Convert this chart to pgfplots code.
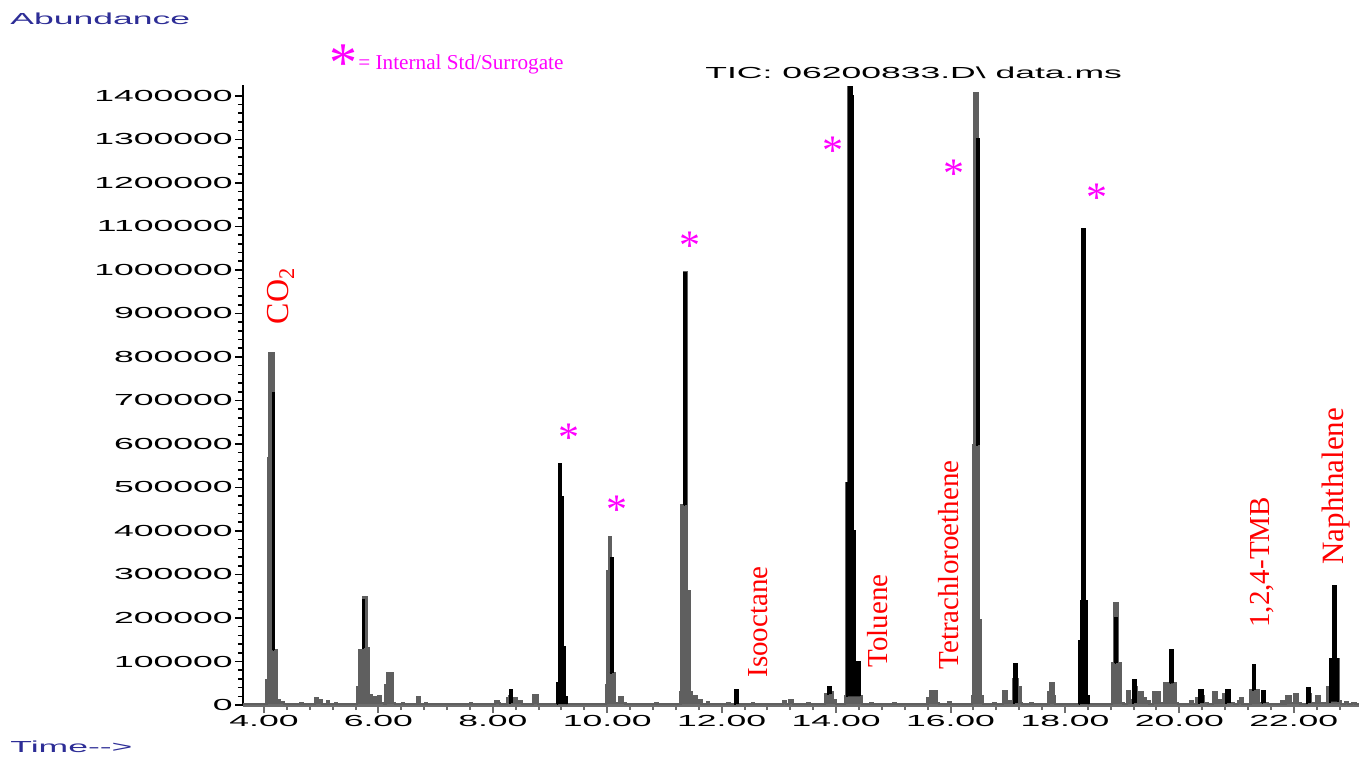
\documentclass[border=0pt]{standalone}
\usepackage{fontspec}
\setmainfont{Liberation Serif}
\newfontfamily\wide[FakeStretch=2.22]{Liberation Sans}
\usepackage{pgfplots}
\pgfplotsset{compat=1.18}
\definecolor{trgray}{RGB}{95,95,95}
\definecolor{axgray}{RGB}{110,110,110}
\definecolor{abblue}{RGB}{45,45,150}
\definecolor{mag}{RGB}{255,0,255}
\definecolor{lblred}{RGB}{255,0,0}
\newcommand\tk{\wide\fontsize{8}{8}\selectfont}
\begin{document}
\begin{tikzpicture}
\useasboundingbox (-121.5pt,-26pt) rectangle (558pt,352.5pt);
\begin{axis}[
  at={(0pt,0pt)}, anchor=south west,
  width=558pt, height=310pt, scale only axis,
  xmin=3.633, xmax=23.14, ymin=0, ymax=1425000,
  axis x line=bottom, axis y line=left,
  x axis line style={-, draw=axgray, line width=1.6pt},
  y axis line style={-, draw=black, line width=1.3pt},
  xtick={4,6,...,22},
  xticklabels={4.00,6.00,8.00,10.00,12.00,14.00,16.00,18.00,20.00,22.00},
  minor xtick={3.6,4.4,4.8,5.2,5.6,6.4,6.8,7.2,7.6,8.4,8.8,9.2,9.6,10.4,10.8,11.2,11.6,12.4,12.8,13.2,13.6,14.4,14.8,15.2,15.6,16.4,16.8,17.2,17.6,18.4,18.8,19.2,19.6,20.4,20.8,21.2,21.6,22.4,22.8},
  ytick={0,100000,200000,300000,400000,500000,600000,700000,800000,900000,1000000,1100000,1200000,1300000,1400000},
  yticklabels={0,100000,200000,300000,400000,500000,600000,700000,800000,900000,1000000,1100000,1200000,1300000,1400000},
  minor y tick num=4,
  tick align=outside,
  major tick length=4pt, minor tick length=2.5pt,
  xtick style={draw=axgray, line width=1pt},
  ytick style={draw=black, line width=0.8pt},
  ticklabel style={font=\tk, inner sep=0pt},
  xticklabel style={anchor=north, yshift=-1pt},
  yticklabel style={anchor=east, xshift=-1pt},
  scaled y ticks=false,
  clip=false,
  unbounded coords=jump,
]
% gray trace
\addplot[const plot, draw=trgray, fill=trgray, line width=1.2pt] coordinates {
(3.64,2000)(4.00,2000)(4.047,57000)(4.075,568000)(4.093,809000)(4.175,126000)(4.222,12000)(4.28,6000)(4.35,2000)
(4.63,5000)(4.67,2000)(4.89,15000)(4.94,10000)(5.01,2000)(5.10,8000)(5.14,2000)(5.24,4000)(5.28,2000)
(5.621,42000)(5.666,126000)(5.726,248000)(5.795,131000)(5.825,22000)(5.89,18000)(5.96,15000)(5.99,20000)(6.045,5000)(6.10,2000)
(6.124,45000)(6.145,74000)(6.248,5000)(6.29,2000)(6.41,4000)(6.45,2000)(6.67,18000)(6.72,2000)(6.81,4000)(6.85,2000)(7.08,3000)(7.12,2000)(7.34,3000)(7.38,2000)(7.60,4000)(7.64,2000)
(8.04,8000)(8.10,4000)(8.13,2000)(8.25,15000)(8.28,20000)(8.34,15000)(8.42,8000)(8.51,2000)(8.70,22000)(8.79,2000)
(9.128,51000)(9.153,405000)(9.163,554000)(9.19,478000)(9.23,133000)(9.26,18000)(9.30,2000)
(9.979,46000)(10.002,307000)(10.026,386000)(10.06,338000)(10.10,74000)(10.13,5000)(10.20,18000)(10.27,4000)(10.32,2000)
(10.57,3000)(10.61,2000)(10.84,4000)(10.88,2000)
(11.28,30000)(11.30,460000)(11.35,994000)(11.39,261000)(11.45,30000)(11.48,15000)(11.52,20000)(11.56,8000)(11.60,12000)(11.65,3000)(11.70,2000)
(11.745,6000)(11.78,2000)(12.10,5000)(12.14,2000)(12.23,20000)(12.28,2000)(12.53,5000)(12.57,2000)
(13.07,8000)(13.12,2000)(13.18,10000)(13.25,2000)(13.5,4000)(13.54,2000)
(13.81,25000)(13.86,35000)(13.91,30000)(13.95,10000)(14.00,3000)
(14.157,20000)(14.183,510000)(14.22,1420000)(14.28,1400000)(14.30,400000)(14.33,99000)(14.42,20000)(14.45,3000)
(14.6,4000)(14.64,2000)(14.8,3000)(14.84,2000)(15.0,4000)(15.04,2000)(15.2,3000)(15.24,2000)
(15.60,15000)(15.64,32000)(15.76,5000)(15.80,2000)(15.96,6000)(16.00,2000)
(16.378,20000)(16.395,598000)(16.41,1407000)(16.47,1300000)(16.50,195000)(16.535,20000)(16.57,3000)
(16.75,4000)(16.79,2000)(16.92,32000)(16.98,8000)(17.09,60000)(17.13,60000)(17.18,40000)(17.22,5000)(17.25,2000)
(17.40,4000)(17.44,2000)(17.55,3000)(17.59,2000)(17.71,30000)(17.74,51000)(17.80,20000)(17.83,2000)(18.0,3000)(18.04,2000)
(18.248,147000)(18.283,239000)(18.30,1093000)(18.35,239000)(18.39,20000)(18.42,2000)
(18.82,97000)(18.86,235000)(18.92,97000)(18.98,5000)(19.02,2000)
(19.08,32000)(19.13,12000)(19.19,40000)(19.25,25000)(19.30,30000)(19.36,15000)(19.42,8000)(19.48,3000)
(19.54,30000)(19.66,5000)(19.74,50000)(19.93,5000)(19.98,2000)
(20.19,8000)(20.23,2000)(20.30,15000)(20.35,20000)(20.42,5000)(20.50,2000)(20.59,30000)(20.66,10000)(20.77,25000)(20.89,5000)(20.95,2000)
(21.02,8000)(21.06,15000)(21.10,2000)
(21.24,35000)(21.38,5000)(21.45,20000)(21.50,5000)(21.55,2000)
(21.78,8000)(21.82,2000)(21.86,20000)(21.94,5000)(22.00,25000)(22.07,5000)(22.12,2000)
(22.23,25000)(22.29,5000)(22.39,20000)(22.46,5000)
(22.58,42000)(22.64,105000)(22.69,273000)(22.74,105000)(22.78,8000)(22.82,3000)
(22.9,6000)(22.95,2000)(23.02,5000)(23.08,2000)(23.14,2000)
};
% black overlay
\addplot[const plot, draw=black, fill=black, line width=1.0pt] coordinates {
(4.15,126000)(4.155,717000)(4.17,126000)(4.2,nan)
(5.72,131000)(5.725,241000)(5.745,131000)(5.8,nan)
(8.28,5000)(8.30,35000)(8.34,5000)(8.4,nan)
(9.125,2000)(9.128,51000)(9.153,405000)(9.163,554000)(9.19,478000)(9.23,133000)(9.26,18000)(9.30,2000)(9.35,nan)
(10.04,74000)(10.06,338000)(10.10,74000)(10.15,nan)
(11.34,460000)(11.35,994000)(11.37,460000)(11.4,nan)
(12.22,2000)(12.23,35000)(12.28,2000)(12.3,nan)
(13.84,25000)(13.86,41000)(13.91,25000)(13.95,nan)
(14.18,20000)(14.19,510000)(14.22,1420000)(14.28,1400000)(14.30,400000)(14.33,99000)(14.42,20000)(14.45,nan)
(16.44,598000)(16.455,1300000)(16.49,598000)(16.52,nan)
(17.09,5000)(17.11,94000)(17.17,5000)(17.2,nan)
(18.24,2000)(18.248,147000)(18.283,239000)(18.30,1093000)(18.35,239000)(18.39,20000)(18.42,2000)(18.45,nan)
(18.87,97000)(18.875,200000)(18.91,97000)(18.95,nan)
(19.18,5000)(19.19,57000)(19.25,5000)(19.28,nan)
(19.83,50000)(19.84,126000)(19.89,50000)(19.92,nan)
(20.33,5000)(20.35,35000)(20.41,5000)(20.45,nan)
(20.80,5000)(20.82,35000)(20.88,5000)(20.92,nan)
(21.27,35000)(21.28,92000)(21.32,35000)(21.35,nan)
(21.44,5000)(21.45,33000)(21.50,5000)(21.53,nan)
(22.22,5000)(22.23,40000)(22.29,5000)(22.32,nan)
(22.62,8000)(22.63,42000)(22.64,105000)(22.69,273000)(22.74,105000)(22.78,8000)
};
% compound labels
\begin{scope}[every node/.style={rotate=90, anchor=west, text=lblred, inner sep=0pt}]
\node[font=\fontsize{16}{16}\selectfont] at (axis cs:4.297,874000) {CO\textsubscript{2}};
\node[font=\fontsize{14.5}{14.5}\selectfont] at (axis cs:12.636,62100) {Isooctane};
\node[font=\fontsize{14.5}{14.5}\selectfont] at (axis cs:14.717,85100) {Toluene};
\node[font=\fontsize{14.5}{14.5}\selectfont] at (axis cs:15.958,80500) {Tetrachloroethene};
\node[font=\fontsize{14.5}{14.5}\selectfont] at (axis cs:21.44,177100) {1,2,4-TMB};
\node[font=\fontsize{15.5}{15.5}\selectfont] at (axis cs:22.74,322000) {Naphthalene};
\end{scope}
% internal standard markers
\begin{scope}[every node/.style={text=mag, inner sep=0pt, font=\fontsize{21}{21}\selectfont, yshift=-3pt}]
\node at (axis cs:9.323,627900) {*};
\node at (axis cs:10.171,462300) {*};
\node at (axis cs:11.448,1069500) {*};
\node at (axis cs:13.948,1288000) {*};
\node at (axis cs:16.054,1235100) {*};
\node at (axis cs:18.563,1179900) {*};
\end{scope}
\end{axis}
\node[text=mag, inner sep=0pt, font=\fontsize{28}{28}\selectfont, yshift=-4pt] at (50pt,325pt) {*};
\node[text=mag, inner sep=0pt, anchor=base west, font=\fontsize{10.6}{10.6}\selectfont] at (57.5pt,317.5pt) {= Internal Std/Surrogate};
\node[inner sep=0pt, anchor=base west, font=\tk] at (231pt,313pt) {TIC: 06200833.D\textbackslash\ data.ms};
\node[inner sep=0pt, anchor=base west, font=\tk, text=abblue] at (-116.5pt,340pt) {Abundance};
\node[inner sep=0pt, anchor=base west, font=\tk, text=abblue] at (-116.5pt,-23.5pt) {Time-{}-{}>};
\end{tikzpicture}
\end{document}
